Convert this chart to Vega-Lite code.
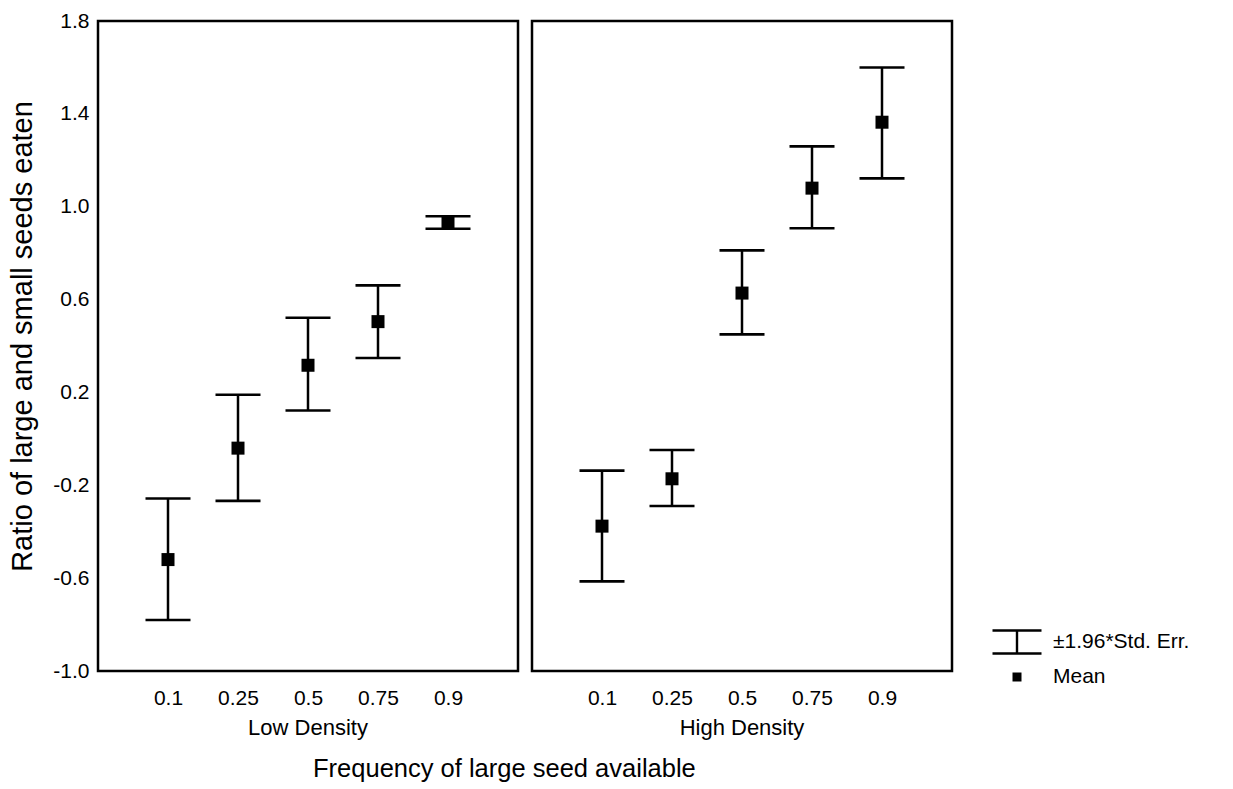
{
  "$schema": "https://vega.github.io/schema/vega-lite/v6.json",
  "background": "white",
  "padding": {"left": 8, "top": 10, "right": 5, "bottom": 5},
  "title": {
    "text": "Frequency of large seed available",
    "orient": "bottom",
    "anchor": "middle",
    "font": "Liberation Sans",
    "fontSize": 25.5,
    "fontWeight": "normal",
    "color": "black",
    "offset": 18,
    "dx": -95
  },
  "data": {
    "values": [
      {"density": "Low Density", "freq": "0.1", "mean": -0.52, "lo": -0.78, "hi": -0.257},
      {"density": "Low Density", "freq": "0.25", "mean": -0.04, "lo": -0.267, "hi": 0.19},
      {"density": "Low Density", "freq": "0.5", "mean": 0.317, "lo": 0.122, "hi": 0.522},
      {"density": "Low Density", "freq": "0.75", "mean": 0.505, "lo": 0.348, "hi": 0.661},
      {"density": "Low Density", "freq": "0.9", "mean": 0.934, "lo": 0.905, "hi": 0.959},
      {"density": "High Density", "freq": "0.1", "mean": -0.376, "lo": -0.614, "hi": -0.137},
      {"density": "High Density", "freq": "0.25", "mean": -0.172, "lo": -0.289, "hi": -0.048},
      {"density": "High Density", "freq": "0.5", "mean": 0.628, "lo": 0.45, "hi": 0.812},
      {"density": "High Density", "freq": "0.75", "mean": 1.08, "lo": 0.907, "hi": 1.26},
      {"density": "High Density", "freq": "0.9", "mean": 1.364, "lo": 1.122, "hi": 1.6}
    ]
  },
  "facet": {
    "column": {
      "field": "density",
      "type": "nominal",
      "sort": ["Low Density", "High Density"],
      "title": null,
      "header": {
        "labelOrient": "bottom",
        "labelFont": "Liberation Sans",
        "labelFontSize": 22,
        "labelColor": "black",
        "labelPadding": 10
      }
    }
  },
  "spacing": 10,
  "spec": {
    "width": 420,
    "height": 650,
    "encoding": {
      "x": {
        "field": "freq",
        "type": "ordinal",
        "sort": ["0.1", "0.25", "0.5", "0.75", "0.9"],
        "scale": {"type": "point", "padding": 1},
        "axis": {
          "title": null,
          "labelAngle": 0,
          "labelFont": "Liberation Sans",
          "labelFontSize": 21,
          "labelColor": "black",
          "labelPadding": 14,
          "ticks": false,
          "domain": false,
          "grid": false
        }
      }
    },
    "layer": [
      {
        "mark": {"type": "rule", "color": "black", "strokeWidth": 2.5},
        "encoding": {
          "y": {
            "field": "lo",
            "type": "quantitative",
            "scale": {"domain": [-1, 1.8], "nice": false, "zero": false},
            "axis": {
              "title": "Ratio of large and small seeds eaten",
              "values": [-1, -0.6, -0.2, 0.2, 0.6, 1, 1.4, 1.8],
              "labelExpr": "datum.value < 0 ? '-' + format(-datum.value, '.1f') : format(datum.value, '.1f')",
              "labelFont": "Liberation Sans",
              "labelFontSize": 21,
              "labelColor": "black",
              "labelPadding": 7,
              "ticks": false,
              "domain": false,
              "grid": false,
              "titleFont": "Liberation Sans",
              "titleFontSize": 29,
              "titleFontWeight": "normal",
              "titleColor": "black",
              "titlePadding": 15,
              "titleY": 315
            }
          },
          "y2": {"field": "hi"}
        }
      },
      {
        "mark": {"type": "tick", "color": "black", "size": 45, "thickness": 2.6, "opacity": 1},
        "encoding": {"y": {"field": "hi", "type": "quantitative", "title": "Ratio of large and small seeds eaten"}}
      },
      {
        "mark": {"type": "tick", "color": "black", "size": 45, "thickness": 2.6, "opacity": 1},
        "encoding": {"y": {"field": "lo", "type": "quantitative", "title": "Ratio of large and small seeds eaten"}}
      },
      {
        "mark": {"type": "point", "filled": true, "color": "black", "opacity": 1, "size": 835},
        "encoding": {
          "y": {"field": "mean", "type": "quantitative", "title": "Ratio of large and small seeds eaten"},
          "shape": {
            "datum": "Mean",
            "scale": {
              "domain": ["±1.96*Std. Err.", "Mean"],
              "range": [
                "M-2.45,-1.27L2.45,-1.27L2.45,-1.03L-2.45,-1.03Z M-2.45,1.03L2.45,1.03L2.45,1.27L-2.45,1.27Z M-0.12,-1.03L0.12,-1.03L0.12,1.03L-0.12,1.03Z",
                "M-0.45,-0.45L0.45,-0.45L0.45,0.45L-0.45,0.45Z"
              ]
            },
            "legend": {
              "title": null,
              "orient": "none",
              "legendX": 908,
              "legendY": 610,
              "labelFont": "Liberation Sans",
              "labelFontSize": 21,
              "labelColor": "black",
              "labelOffset": 25,
              "symbolSize": 400,
              "rowPadding": 8,
              "symbolFillColor": "black",
              "symbolOpacity": 1,
              "encode": {
                "symbols": {
                  "update": {
                    "fill": {"value": "black"},
                    "opacity": {"value": 1},
                    "fillOpacity": {"value": 1}
                  }
                }
              }
            }
          }
        }
      }
    ]
  },
  "config": {
    "view": {"stroke": "black", "strokeWidth": 2.5},
    "font": "Liberation Sans"
  }
}
